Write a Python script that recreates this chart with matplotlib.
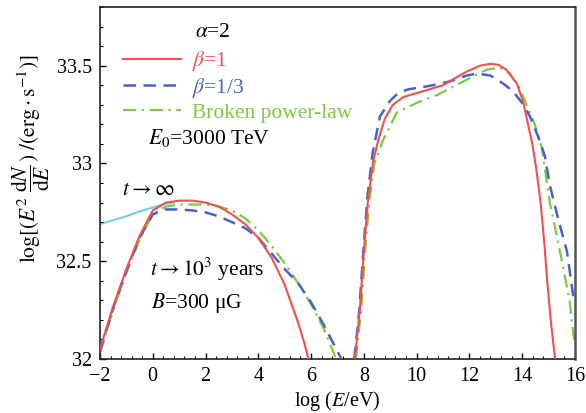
# spektrum E^2 dN/dE untuk beberapa model injeksi
import matplotlib
matplotlib.use("Agg")
import matplotlib.pyplot as plt
from matplotlib.ticker import MultipleLocator, FormatStrFormatter
# --------------------------------------------------------------

# data (log E dalam eV, log E^2 dN/dE)
cyan_x = [-2, -1.5, -1, -0.5, 0, 0.5, 0.8]
cyan_y = [32.69, 32.71, 32.73, 32.755, 32.775, 32.795, 32.80]

red_lo_x = [-2, -1.5, -1, -0.5, 0, 0.5, 1, 1.5, 2, 2.5, 3, 3.5, 4, 4.5, 5, 5.5, 5.75, 5.9]
red_lo_y = [32.05, 32.27, 32.46, 32.63, 32.76, 32.80, 32.81, 32.81, 32.80, 32.78, 32.74,
            32.69, 32.62, 32.52, 32.38, 32.19, 32.08, 32.0]
red_hi_x = [7.66, 7.85, 8.0, 8.15, 8.35, 8.55, 8.8, 9.1, 9.5, 10.0, 10.5, 11.0, 11.5, 11.9,
            12.4, 12.8, 13.1, 13.4, 13.8, 14.05, 14.4, 14.55, 14.7, 14.85, 14.95, 15.1, 15.25]
red_hi_y = [32.0, 32.25, 32.55, 32.8, 33.01, 33.12, 33.23, 33.30, 33.34, 33.36, 33.38, 33.40,
            33.44, 33.47, 33.50, 33.51, 33.505, 33.48, 33.41, 33.31, 33.09, 32.96, 32.80,
            32.58, 32.40, 32.18, 32.0]

blue_lo_x = [-2, -1.5, -1, -0.5, 0, 0.5, 1, 1.5, 2, 2.5, 3, 3.5, 4, 4.5, 5, 5.5, 6, 6.5, 7.15]
blue_lo_y = [32.04, 32.26, 32.45, 32.62, 32.74, 32.765, 32.765, 32.76, 32.75, 32.73, 32.70,
             32.67, 32.62, 32.54, 32.46, 32.39, 32.29, 32.17, 32.0]
blue_hi_x = [7.64, 7.83, 7.98, 8.13, 8.33, 8.61, 8.99, 9.3, 9.7, 10.2, 10.6, 11.26, 11.9, 12.3,
             12.8, 13.27, 13.65, 14.0, 14.3, 14.6, 14.86, 15.05, 15.36, 15.7, 15.93, 16.0]
blue_hi_y = [32.0, 32.25, 32.55, 32.82, 33.05, 33.24, 33.32, 33.36, 33.38, 33.39, 33.40, 33.42,
             33.45, 33.46, 33.45, 33.41, 33.37, 33.31, 33.24, 33.14, 33.04, 32.89, 32.72,
             32.55, 32.33, 32.29]

green_lo_x = [-2, -1.5, -1, -0.5, 0, 0.5, 1, 1.5, 2, 2.5, 3, 3.5, 4, 4.5, 5, 5.5, 6, 6.5, 6.95]
green_lo_y = [32.03, 32.25, 32.44, 32.61, 32.74, 32.78, 32.79, 32.79, 32.79, 32.78, 32.76,
              32.72, 32.66, 32.58, 32.49, 32.39, 32.28, 32.15, 32.0]
green_hi_x = [7.7, 7.9, 8.05, 8.2, 8.4, 8.73, 9.25, 10.0, 10.77, 11.64, 12.2, 12.66, 13.16,
              13.54, 13.92, 14.2, 14.48, 14.75, 15.05, 15.3, 15.55, 15.8, 15.93, 16.0]
green_hi_y = [32.0, 32.25, 32.55, 32.8, 33.0, 33.12, 33.26, 33.31, 33.35, 33.41, 33.45, 33.48,
              33.49, 33.46, 33.38, 33.29, 33.20, 33.08, 32.80, 32.64, 32.47, 32.30, 32.14, 32.08]

labels = [r"$\beta$=1", r"$\beta$=1/3", "Broken power-law"]
c_red, c_blue, c_green, c_cyan = "#f25050", "#4a62c8", "#7cc943", "#70d2df"
# --------------------------------------------------------------

plt.rcParams["font.family"] = "serif"
plt.rcParams["font.serif"] = ["Liberation Serif", "DejaVu Serif"]
plt.rcParams["mathtext.fontset"] = "stix"

fig = plt.figure(figsize=(5.86, 4.13), dpi=100)
ax = fig.add_axes([0.1706, 0.1308, 0.8104, 0.852])

# garis-garis spektrum
ax.plot(cyan_x, cyan_y, color=c_cyan, linewidth=1.5, zorder=1)
ax.plot(green_lo_x, green_lo_y, color=c_green, linewidth=1.6, linestyle=(0, (6, 2.5, 1, 2.5)), zorder=2)
ax.plot(green_hi_x, green_hi_y, color=c_green, linewidth=1.6, linestyle=(0, (6, 2.5, 1, 2.5)), zorder=2)
ax.plot(blue_lo_x, blue_lo_y, color=c_blue, linewidth=1.8, linestyle=(0, (5, 3)), zorder=3)
ax.plot(blue_hi_x, blue_hi_y, color=c_blue, linewidth=1.8, linestyle=(0, (5, 3)), zorder=3)
ax.plot(red_lo_x, red_lo_y, color=c_red, linewidth=1.5, zorder=4)
ax.plot(red_hi_x, red_hi_y, color=c_red, linewidth=1.5, zorder=4)

# legenda
h_red, = ax.plot([], [], color=c_red, linewidth=1.5)
h_blue, = ax.plot([], [], color=c_blue, linewidth=1.8, linestyle=(0, (5, 3)))
h_green, = ax.plot([], [], color=c_green, linewidth=1.6, linestyle=(0, (6, 2.5, 1, 2.5)))
ax.legend([h_red, h_blue, h_green], labels, loc="upper left", bbox_to_anchor=(0.048, 0.88),
          frameon=False, fontsize=15.5, handlelength=2.7, handletextpad=0.5,
          labelspacing=0.12, borderpad=0, borderaxespad=0, labelcolor="linecolor")

# anotasi
ax.text(1.6, 33.67, r"$\alpha$=2", fontsize=15.5, va="center")
ax.text(-0.18, 33.13, r"$E_0$=3000 TeV", fontsize=15.5, va="center")
ax.text(-1.17, 32.86, r"$t\rightarrow\infty$", fontsize=15.5, va="center")
ax.text(-0.1, 32.46, r"$t\rightarrow10^3$ years", fontsize=15.5, va="center")
ax.text(-0.05, 32.285, r"$B$=300 μG", fontsize=15.5, va="center")

# sumbu
ax.set_xlim(-2, 16)
ax.set_ylim(32, 33.8)
ax.xaxis.set_major_locator(MultipleLocator(2))
ax.xaxis.set_minor_locator(MultipleLocator(0.4))
ax.yaxis.set_major_locator(MultipleLocator(0.5))
ax.yaxis.set_minor_locator(MultipleLocator(0.1))
ax.yaxis.set_major_formatter(FormatStrFormatter("%g"))
ax.tick_params(which="both", direction="in", top=False, right=False, labelsize=14.5)
ax.tick_params(which="major", length=4.5, width=1, pad=6)
ax.tick_params(which="minor", length=2.4, width=0.8)
for s in ax.spines.values():
  s.set_color("#222222")
  s.set_linewidth(1.2)
ax.spines["right"].set_color("#555555")
ax.spines["right"].set_linewidth(1.8)

# membuat label-label
ax.set_xlabel(r"log ($E$/eV)", fontsize=14.5, labelpad=2)
ax.set_ylabel(r"$\log[(E^2\ \dfrac{\mathrm{d}N}{\mathrm{d}E}\,)\ /(\mathrm{erg\cdot s^{-1}})]$", fontsize=15.5)
ax.yaxis.set_label_coords(-0.1, 0.57)

# simpan
fig.savefig("out.png", dpi=100)
